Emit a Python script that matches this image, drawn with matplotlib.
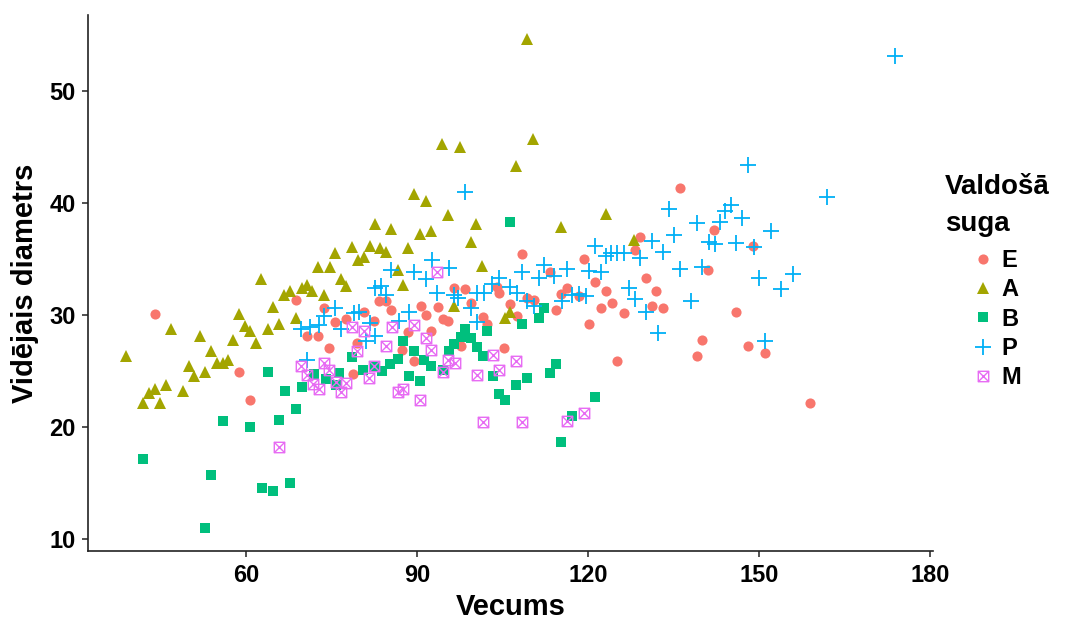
import matplotlib
matplotlib.use("Agg")
import matplotlib.pyplot as plt
from matplotlib.path import Path
from matplotlib.lines import Line2D

# vecums / videjais diametrs pa valdosajam sugam
e_x = [44.0, 58.8, 60.8, 68.7, 70.8, 72.6, 73.7, 74.6, 75.7, 77.6, 78.7, 79.5, 80.7, 82.5, 83.4,
       84.5, 85.5, 87.4, 88.5, 89.5, 90.7, 91.5, 92.4, 93.6, 94.5, 95.4, 96.5, 97.7, 98.4, 99.4,
       101.5, 102.3, 104.0, 104.4, 105.3, 106.4, 107.6, 108.4, 109.3, 110.5, 113.4, 114.3, 115.3,
       116.3, 118.4, 119.3, 120.1, 121.3, 122.2, 123.2, 124.2, 125.1, 126.3, 128.2, 129.2, 130.1,
       131.3, 132.0, 133.1, 136.1, 139.1, 140.0, 141.0, 142.1, 146.0, 148.0, 148.9, 151.0, 159.0]
e_y = [30.1, 24.9, 22.4, 31.3, 28.1, 28.1, 30.6, 27.0, 29.4, 29.6, 24.7, 27.5, 30.3, 29.5, 31.2,
       31.2, 30.4, 26.9, 28.5, 25.9, 30.8, 30.0, 28.6, 30.7, 29.6, 29.5, 32.4, 27.2, 32.3, 31.1,
       29.8, 29.2, 32.5, 32.0, 27.0, 31.0, 29.9, 35.4, 31.5, 31.3, 33.8, 30.4, 31.9,
       32.4, 31.7, 35.0, 29.2, 32.9, 30.6, 32.1, 31.1, 25.9, 30.2, 35.8, 37.0, 33.3,
       30.8, 32.1, 30.6, 41.3, 26.3, 27.8, 34.0, 37.6, 30.3, 27.2, 36.2, 26.6, 22.1]

a_x = [39.0, 42.0, 43.0, 44.0, 44.9, 45.9, 46.9, 49.0, 50.0, 50.9, 51.9, 52.9, 53.9, 54.9, 55.9,
       56.9, 57.8, 58.8, 59.8, 60.8, 61.8, 62.7, 63.9, 64.7, 65.8, 66.7, 67.7, 68.7, 69.8, 70.7,
       71.6, 72.7, 73.7, 74.7, 75.7, 76.7, 77.6, 78.6, 79.7, 80.7, 81.7, 82.6, 83.5, 84.5, 85.5,
       86.6, 87.6, 88.5, 89.5, 90.5, 91.5, 92.5, 94.4, 95.4, 96.5, 97.5, 99.4, 100.4, 101.4,
       105.5, 106.4, 107.3, 109.3, 110.3, 115.3, 123.2, 128.0]
a_y = [26.3, 22.1, 23.0, 23.4, 22.1, 23.7, 28.7, 23.2, 25.4, 24.5, 28.1, 24.9, 26.8, 25.7, 25.7,
       26.0, 27.8, 30.1, 29.0, 28.6, 27.5, 33.2, 28.7, 30.7, 29.2, 31.8, 32.1, 29.7, 32.4, 32.7,
       32.1, 34.3, 31.8, 34.3, 35.5, 33.2, 32.6, 36.1, 34.9, 35.2, 36.2, 38.1, 36.0, 35.6, 37.7,
       34.0, 32.7, 36.0, 40.8, 37.2, 40.2, 37.5, 45.3, 38.9, 30.8, 45.0, 36.5, 38.1, 34.4,
       29.7, 30.3, 43.3, 54.7, 45.7, 37.9, 39.0, 36.7]

b_x = [42.0, 52.9, 53.9, 55.9, 60.8, 62.8, 64.8, 67.8, 65.8, 68.8, 66.8, 69.8, 63.9, 72.0, 74.0,
       75.8, 76.3, 78.6, 80.5, 82.6, 83.9, 85.3, 86.6, 87.5, 88.6, 89.5, 90.5, 91.2, 92.4, 94.5,
       95.6, 96.5, 97.7, 98.5, 99.4, 100.5, 101.5, 102.3, 103.3, 104.4, 105.4, 106.4, 107.3,
       108.4, 109.3, 111.4, 112.3, 113.4, 114.3, 115.3, 117.2, 121.3]
b_y = [17.1, 11.0, 15.7, 20.5, 20.0, 14.5, 14.3, 15.0, 20.6, 21.6, 23.2, 23.6, 24.9, 24.7, 24.3,
       23.7, 24.8, 26.2, 25.1, 25.4, 25.0, 25.6, 26.1, 27.7, 24.5, 26.8, 24.1, 26.0, 25.4, 25.1,
       26.8, 27.4, 28.0, 28.7, 27.9, 27.1, 26.3, 28.6, 24.5, 22.9, 22.4, 38.3, 23.7,
       29.2, 24.4, 29.7, 30.6, 24.8, 25.6, 18.6, 21.0, 22.7]

p_x = [70.7, 69.6, 71.3, 72.8, 73.7, 75.7, 76.6, 78.9, 79.8, 81.0, 81.8, 82.7, 82.7, 83.7, 84.5,
       85.4, 86.9, 88.6, 89.5, 91.5, 92.6, 93.5, 95.6, 96.5, 97.2, 98.4, 99.4, 100.5, 100.6,
       101.7, 103.2, 104.4, 106.3, 107.6, 108.4, 109.3, 110.5, 111.4, 112.3, 114.0, 115.5,
       116.3, 117.2, 118.4, 119.6, 120.1, 121.3, 122.2, 123.1, 124.0, 125.1, 126.3, 127.2,
       128.3, 129.2, 130.1, 131.2, 132.2, 133.2, 134.2, 135.0, 136.1, 138.1, 139.1, 140.0,
       141.2, 142.3, 143.1, 144.1, 145.0, 146.0, 147.0, 148.0, 149.1, 149.9, 151.0, 152.0,
       153.9, 155.9, 161.9, 173.8]
p_y = [26.0, 28.7, 28.9, 29.1, 29.9, 30.6, 28.7, 30.2, 30.3, 27.7, 29.3, 28.1, 32.4, 32.6, 31.8,
       34.0, 29.5, 30.3, 33.8, 33.2, 34.9, 32.0, 34.2, 31.8, 31.5, 41.0, 30.6, 32.0, 29.4,
       32.0, 32.8, 33.3, 32.5, 32.0, 33.8, 31.2, 30.8, 33.3, 34.5, 33.5, 31.2,
       34.1, 31.8, 31.9, 31.7, 33.9, 36.2, 33.8, 35.3, 35.5, 35.5, 35.5, 32.4,
       31.4, 35.1, 30.3, 36.6, 28.4, 35.6, 39.5, 37.1, 34.1, 31.2, 38.2, 34.3,
       36.5, 36.3, 38.3, 39.3, 39.8, 36.4, 38.7, 43.4, 36.1, 33.3, 27.7, 37.5,
       32.3, 33.7, 40.5, 53.1]

m_x = [65.8, 69.6, 70.8, 71.7, 72.8, 73.7, 74.6, 75.8, 76.6, 77.5, 78.6, 79.5, 80.7, 81.6, 82.5,
       84.5, 85.7, 86.6, 87.6, 89.5, 90.5, 91.5, 92.4, 93.5, 94.5, 95.4, 96.6, 100.5, 101.5,
       103.4, 104.4, 107.4, 108.4, 116.3, 119.3]
m_y = [18.2, 25.4, 24.6, 23.8, 23.4, 25.7, 25.1, 24.0, 23.1, 23.9, 28.9, 26.8, 28.6, 24.4, 25.4,
       27.2, 28.9, 23.1, 23.4, 29.1, 22.4, 27.9, 26.9, 33.8, 24.9, 26.0, 25.7, 24.6, 20.4,
       26.4, 25.1, 25.9, 20.4, 20.5, 21.2]

# ggplot shape 7: kvadrats ar krustu
box_x = Path([(-1, -1), (1, -1), (1, 1), (-1, 1), (-1, -1),
              (-1, -1), (1, 1), (-1, 1), (1, -1)],
             [Path.MOVETO, Path.LINETO, Path.LINETO, Path.LINETO, Path.CLOSEPOLY,
              Path.MOVETO, Path.LINETO, Path.MOVETO, Path.LINETO])

groups = [
    ("E", e_x, e_y, "#F8766D", dict(marker="o", ms=7.3, mew=0)),
    ("A", a_x, a_y, "#A3A500", dict(marker="^", ms=8.5, mew=0)),
    ("B", b_x, b_y, "#00BF7D", dict(marker="s", ms=6.6, mew=0)),
    ("P", p_x, p_y, "#00B0F6", dict(marker="+", ms=11.5, mew=1.3)),
    ("M", m_x, m_y, "#E76BF3", dict(marker=box_x, ms=7.5, mew=1.0, mfc="none")),
]

plt.rcParams["font.family"] = ["Liberation Sans Narrow", "Liberation Sans", "DejaVu Sans"]
plt.rcParams["font.weight"] = "bold"

fig = plt.figure(figsize=(10.78, 6.21), dpi=100)
ax = fig.add_axes([0.0816, 0.1127, 0.7839, 0.8631])

handles = []
for name, xs, ys, col, st in groups:
    ax.plot(xs, ys, ls="none", color=col, mec=col, **st)
    handles.append(Line2D([], [], ls="none", color=col, mec=col, label=name, **st))

ax.set_xlim(32.3, 180.5)
ax.set_ylim(8.9, 56.8)
ax.set_xticks([60, 90, 120, 150, 180])
ax.set_yticks([10, 20, 30, 40, 50])

for s in ["top", "right"]:
    ax.spines[s].set_visible(False)
for s in ["left", "bottom"]:
    ax.spines[s].set_linewidth(1.2)
    ax.spines[s].set_color("#222222")
ax.tick_params(direction="out", length=4, width=1.1, colors="#222222",
               labelsize=17, labelcolor="black", pad=5)
for lab in ax.get_xticklabels() + ax.get_yticklabels():
    lab.set_fontweight("bold")

ax.set_xlabel("Vecums", fontsize=21, fontweight="bold", labelpad=5)
ax.set_ylabel("Vidējais diametrs", fontsize=21, fontweight="bold", labelpad=7)

# leģendas virsraksts atsevišķi, ieraksti nedaudz atkāpē
fig.text(945 / 1078, 1 - 174 / 621, "Valdošā\nsuga", ha="left", va="top",
         fontsize=20, fontweight="bold", linespacing=1.55)
leg = fig.legend(handles=handles, loc="upper left",
                 bbox_to_anchor=(971 / 1078, 1 - 249 / 621), frameon=False,
                 fontsize=17, handlelength=1.0, handletextpad=0.3,
                 labelspacing=0.27, borderaxespad=0, borderpad=0)
for t in leg.get_texts():
    t.set_fontweight("bold")

fig.savefig("out.png", dpi=100)
